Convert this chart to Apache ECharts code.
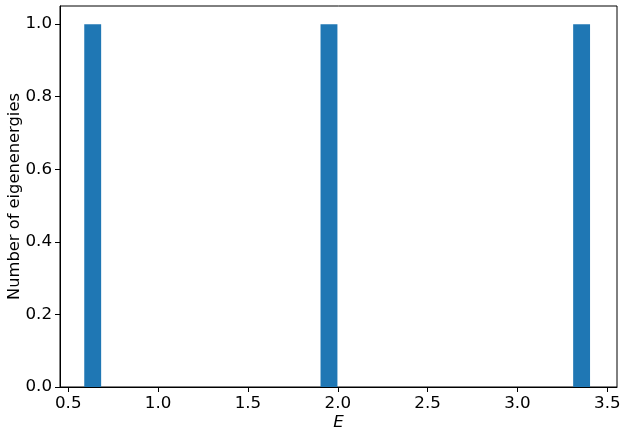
<!DOCTYPE html>
<html>
<head>
    <meta charset="UTF-8">
    <title>eigenenergy histogram</title>
    <style type="text/css">
        body{
            margin:0;
            padding:0;
            background-color:white;
        }
        #main{
            width:626px;
            height:436px;
        }
    </style>
</head>
<body>
<div id="main"></div>
<script src="https://cdn.jsdelivr.net/npm/echarts@6/dist/echarts.min.js"></script>
<script type="text/javascript">
    // histogram bins that hold an eigenenergy (30 bins, the rest are empty)
    var binLeft = [0.589, 1.904, 3.310];
    var binRight = [0.683, 1.998, 3.404];
    var binCount = [1, 1, 1];

    var xTicks = [0.5, 1.0, 1.5, 2.0, 2.5, 3.0, 3.5];
    var yTicks = [0.0, 0.2, 0.4, 0.6, 0.8, 1.0];

    var bars = [];
    for (var i = 0; i < binCount.length; i++) {
        bars.push([binLeft[i], binRight[i], binCount[i]]);
    }

    var font = 'DejaVu Sans';
    var fs = 16.7;
    var myChart = echarts.init(document.getElementById('main'));
    var option = {
        animation: false,
        backgroundColor: '#ffffff',
        grid: {
            left: 60,
            right: 9,
            top: 6,
            bottom: 49,
            outerBoundsMode: 'none',
            containLabel: false,
            show: true,
            borderColor: '#000',
            borderWidth: 1,
            backgroundColor: 'transparent'
        },
        xAxis: {
            type: 'value',
            min: 0.454,
            max: 3.554,
            name: 'E',
            nameLocation: 'middle',
            nameGap: 27,
            nameMoveOverlap: false,
            nameTextStyle: {fontFamily: font, fontSize: fs, fontStyle: 'italic', color: '#000'},
            axisLine: {show: true, onZero: false, lineStyle: {color: '#000', width: 1}},
            axisTick: {show: true, inside: false, length: 5, customValues: xTicks, lineStyle: {color: '#000'}},
            axisLabel: {
                customValues: xTicks,
                margin: 8,
                fontFamily: font, fontSize: fs, color: '#000',
                formatter: function(v) { return v.toFixed(1); }
            },
            splitLine: {show: false}
        },
        yAxis: {
            type: 'value',
            min: 0,
            max: 1.05,
            name: 'Number of eigenenergies',
            nameLocation: 'middle',
            nameGap: 37,
            nameMoveOverlap: false,
            nameTextStyle: {fontFamily: font, fontSize: 16.3, color: '#000'},
            axisLine: {show: true, lineStyle: {color: '#000', width: 1}},
            axisTick: {show: true, inside: false, length: 5, customValues: yTicks, lineStyle: {color: '#000'}},
            axisLabel: {
                customValues: yTicks,
                margin: 8,
                fontFamily: font, fontSize: fs, color: '#000',
                formatter: function(v) { return v.toFixed(1); }
            },
            splitLine: {show: false}
        },
        series: [{
            type: 'custom',
            data: bars,
            encode: {x: [0, 1], y: 2},
            renderItem: function(params, api) {
                var p0 = api.coord([api.value(0), 0]);
                var p1 = api.coord([api.value(1), api.value(2)]);
                return {
                    type: 'rect',
                    shape: {x: p0[0], y: p1[1], width: p1[0] - p0[0], height: p0[1] - p1[1]},
                    style: {fill: '#1f77b4'}
                };
            }
        }]
    };
    myChart.setOption(option);
</script>
</body>
</html>
